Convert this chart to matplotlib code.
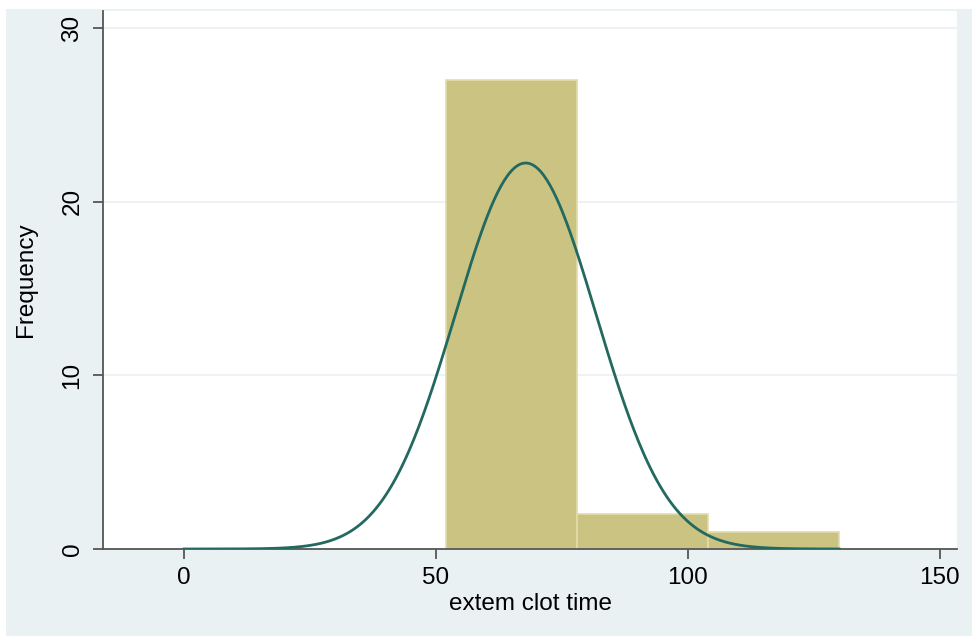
import numpy as np
import matplotlib
matplotlib.use("Agg")
import matplotlib.pyplot as plt

# Data
bin_edges = [52, 78, 104, 130]
counts = [27, 2, 1]
n_obs = 30
mean_val = 67.8
sd_val = 14.0
curve_range = [0, 130]
x_ticks = [0, 50, 100, 150]
y_ticks = [0, 10, 20, 30]
x_label = "extem clot time"
y_label = "Frequency"

plt.rcParams['font.family'] = ['Liberation Sans', 'DejaVu Sans']

fig = plt.figure(figsize=(9.72, 6.36), dpi=100)
fig.patch.set_facecolor('white')

# outer light background
bg = fig.add_axes([6/972, 0, 1 - 6/972, 1 - 9/636])
bg.set_facecolor('#EAF1F3')
bg.set_xticks([]); bg.set_yticks([])
for s in bg.spines.values():
    s.set_visible(False)
bg.set_zorder(0)

ax = fig.add_axes([103/972, 87/636, (957-103)/972, (549-11)/636])
ax.set_zorder(1)
ax.set_facecolor('white')

widths = np.diff(bin_edges)
ax.bar(bin_edges[:-1], counts, width=widths, align='edge', color='#CBC382',
       edgecolor='#E2DCAC', linewidth=1.2, zorder=2)

xs = np.linspace(curve_range[0], curve_range[1], 400)
bw = widths[0]
ys = n_obs * bw / (sd_val * np.sqrt(2 * np.pi)) * np.exp(-0.5 * ((xs - mean_val) / sd_val) ** 2)
ax.plot(xs, ys, color='#23695F', linewidth=2.0, zorder=3)

ax.set_xlim(-16.1, 153.4)
ax.set_ylim(0, 30.98)
ax.set_xticks(x_ticks)
ax.set_yticks(y_ticks)
ax.set_yticklabels([str(v) for v in y_ticks], rotation=90, va='center')
ax.yaxis.grid(True, color='#EAF1F3', linewidth=1.2, zorder=1)
ax.set_axisbelow(True)

for s in ['top', 'right']:
    ax.spines[s].set_visible(False)
for s in ['left', 'bottom']:
    ax.spines[s].set_color('#555555')
    ax.spines[s].set_linewidth(1.3)

ax.tick_params(axis='both', length=7, width=1.3, color='#555555', labelsize=17.5,
               labelcolor='black')
ax.tick_params(axis='x', pad=6)
ax.tick_params(axis='y', pad=7)

ax.set_xlabel(x_label, fontsize=17.5, labelpad=3)
ax.set_ylabel(y_label, fontsize=17.5, labelpad=18)

fig.savefig('out.png', dpi=100, facecolor=fig.get_facecolor())
